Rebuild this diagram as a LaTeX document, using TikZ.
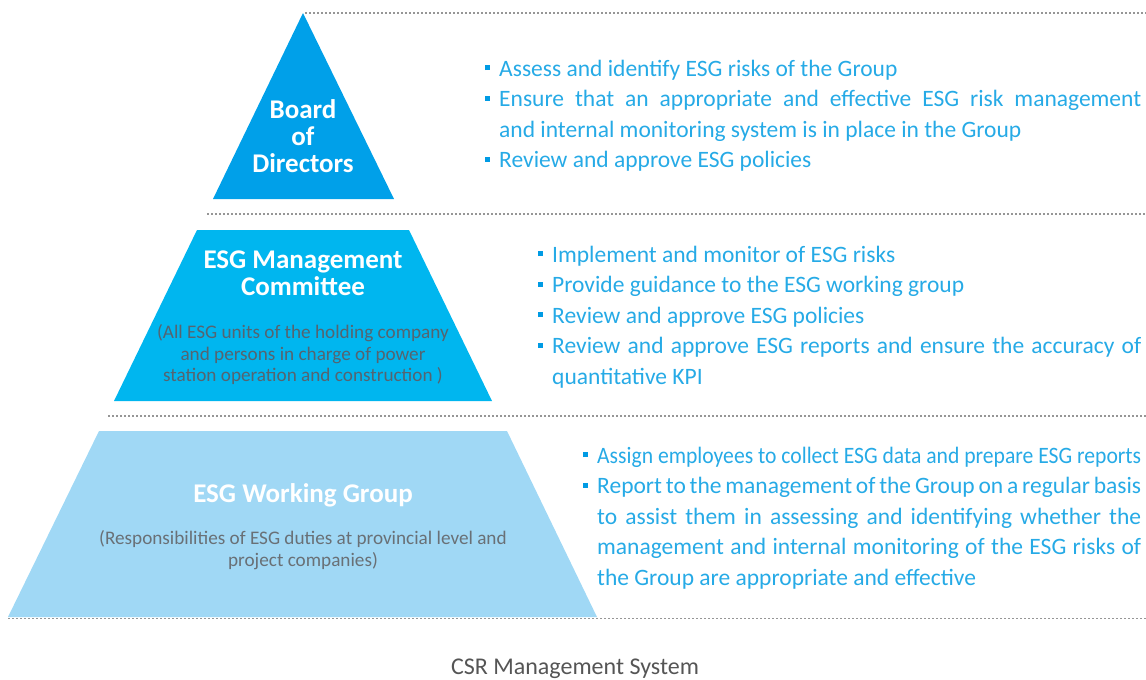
\documentclass[tikz,border=0pt]{standalone}
\usepackage{fontspec}
\usepackage{graphicx}
\setmainfont{Carlito}
\definecolor{topblue}{RGB}{0,160,233}
\definecolor{midblue}{RGB}{0,182,239}
\definecolor{lowblue}{RGB}{160,216,245}
\definecolor{txtblue}{RGB}{38,170,230}
\definecolor{bulblue}{RGB}{0,155,228}
\definecolor{subgrayA}{RGB}{85,100,112}
\definecolor{subgrayB}{RGB}{105,112,118}
\definecolor{capgray}{RGB}{85,85,85}
\definecolor{dotgray}{RGB}{150,150,150}
\newcommand{\bul}{\leavevmode\llap{\textcolor{bulblue}{\rule[6pt]{5pt}{5pt}}\hspace{9pt}}}
\newcommand{\txtsetup}{\fontsize{23.5}{30.5}\selectfont\parindent=0pt\hyphenpenalty=10000\exhyphenpenalty=10000\tolerance=9999\emergencystretch=20pt\spaceskip=0.226em plus 0.4em minus 0.12em}
\tikzset{
  dotline/.style={draw=dotgray, line width=1.2pt, dash pattern=on 2pt off 2pt},
  txt/.style={inner sep=0pt, anchor=base west, text=txtblue},
  ttl/.style={inner sep=0pt, anchor=base, text=white},
  sub/.style={inner sep=0pt, anchor=base},
}
\begin{document}
\begin{tikzpicture}[x=1pt,y=-1pt]
\useasboundingbox (0,0) rectangle (1146,680);
% tiers
\fill[topblue] (303,13) -- (394,199) -- (213,199) -- cycle;
\fill[midblue] (197,230) -- (409,230) -- (492,401) -- (114,401) -- cycle;
\fill[lowblue] (99,431) -- (507,431) -- (597,617) -- (8,617) -- cycle;
% dotted separators
\draw[dotline] (305,13) -- (1146,13);
\draw[dotline] (207,214) -- (1146,214);
\draw[dotline] (108,416) -- (1146,416);
\draw[dotline] (8,618.5) -- (1146,618.5);
% titles
\node[ttl] (board) at (303,118.3) {\parbox[t]{300pt}{\centering\fontsize{27}{27}\selectfont\bfseries Board\\of\\Directors}};
\node[ttl] (committee) at (303,268.3) {\parbox[t]{350pt}{\centering\fontsize{27}{27}\selectfont\bfseries ESG Management\\Committee}};
\node[sub, text=subgrayA] (committeesub) at (303,338.3) {\parbox[t]{350pt}{\centering\fontsize{19.2}{21.7}\selectfont (All ESG units of the holding company\\and persons in charge of power\\station operation and construction )}};
\node[ttl] (working) at (303,502.5) {\parbox[t]{400pt}{\centering\fontsize{27}{27}\selectfont\bfseries ESG Working Group}};
\node[sub, text=subgrayB] (workingsub) at (303,544.5) {\parbox[t]{500pt}{\centering\fontsize{19.2}{22}\selectfont (Responsibilities of ESG duties at provincial level and\\project companies)}};
% responsibilities
\node[txt] (boardtxt) at (499,76) {\parbox[t]{642pt}{\txtsetup
\bul Assess and identify ESG risks of the Group\par
\bul Ensure that an appropriate and effective ESG risk management\linebreak and internal monitoring system is in place in the Group\par
\bul Review and approve ESG policies}};
\node[txt] (committeetxt) at (552,262) {\parbox[t]{589pt}{\txtsetup
\bul Implement and monitor of ESG risks\par
\bul Provide guidance to the ESG working group\par
\bul Review and approve ESG policies\par
\bul Review and approve ESG reports and ensure the accuracy of\linebreak quantitative KPI}};
\node[txt] (workingtxt) at (597,463) {\parbox[t]{544pt}{\txtsetup
\bul \resizebox{544pt}{\height}{Assign employees to collect ESG data and prepare ESG reports}\par
\bul Report to the management of the Group on a regular basis\linebreak to assist them in assessing and identifying whether the\linebreak management and internal monitoring of the ESG risks of\linebreak the Group are appropriate and effective}};
% caption
\node[inner sep=0pt, anchor=base, text=capgray] (caption) at (575,674.5) {\fontsize{24}{26}\selectfont CSR Management System};
\end{tikzpicture}
\end{document}
